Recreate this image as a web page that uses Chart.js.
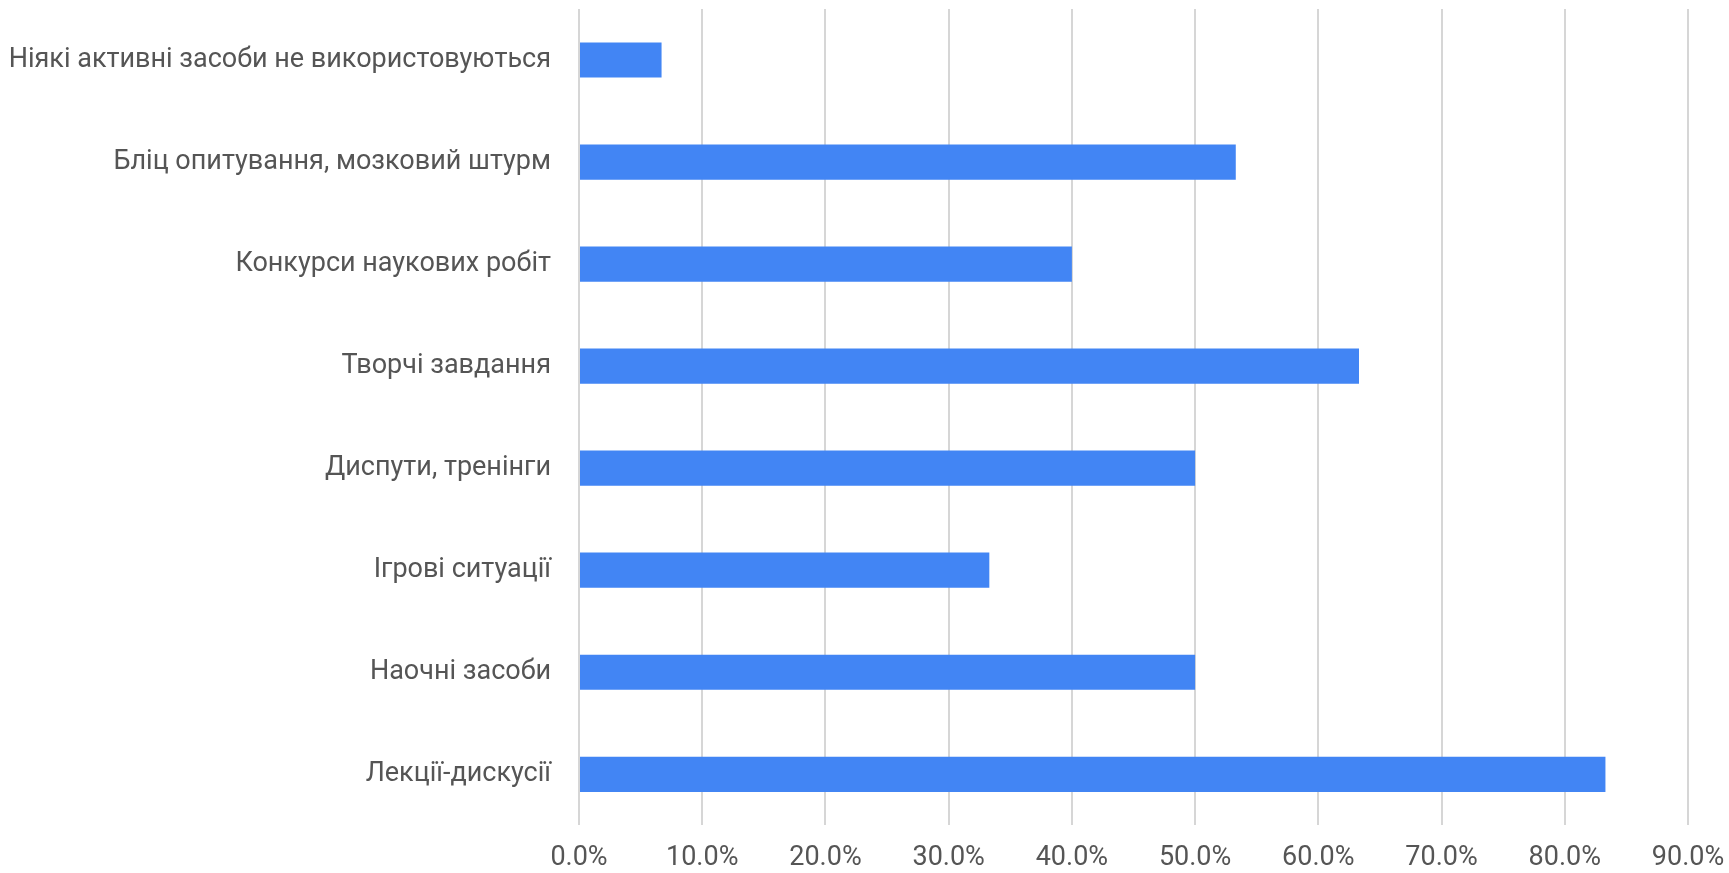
<!DOCTYPE html>
<html>
<head>
<meta charset="utf-8">
<script src="https://cdn.jsdelivr.net/npm/chart.js@4"></script>
<style>
  html, body { margin: 0; padding: 0; background: #fff; }
  #wrap { width: 1729px; height: 873px; position: relative; }
</style>
</head>
<body>
<div id="wrap"><canvas id="chart1"></canvas></div>
<script>
const categories = [
  'Ніякі активні засоби не використовуються',
  'Бліц опитування, мозковий штурм',
  'Конкурси наукових робіт',
  'Творчі завдання',
  'Диспути, тренінги',
  'Ігрові ситуації',
  'Наочні засоби',
  'Лекції-дискусії'
];
const shares = [6.7, 53.3, 40.0, 63.3, 50.0, 33.3, 50.0, 83.3];
const axisMax = 90;
const tickStep = 10;

const ctx = document.getElementById('chart1');
new Chart(ctx, {
  type: 'bar',
  data: {
    labels: categories,
    datasets: [{
      data: shares,
      backgroundColor: '#4285f4',
      borderWidth: 0,
      barPercentage: 0.345,
      categoryPercentage: 1
    }]
  },
  options: {
    indexAxis: 'y',
    responsive: true,
    maintainAspectRatio: false,
    animation: false,
    layout: { padding: { top: 9, right: 41, bottom: 0, left: 0 } },
    plugins: { legend: { display: false }, tooltip: { enabled: false } },
    scales: {
      x: {
        min: 0,
        max: axisMax,
        ticks: {
          stepSize: tickStep,
          color: '#555',
          font: { family: 'Roboto', size: 27, lineHeight: 1.1 },
          padding: 0,
          callback: v => v.toFixed(1) + '%'
        },
        grid: { color: '#d6d6d6', lineWidth: 2, drawTicks: true, tickLength: 18, tickColor: 'transparent' },
        border: { display: false }
      },
      y: {
        ticks: {
          color: '#555',
          font: { family: 'Roboto', size: 27, lineHeight: 0.6 },
          padding: 0
        },
        grid: { display: false, drawTicks: true, tickLength: 28 },
        border: { display: false },
        afterFit: scale => { scale.width = 579; }
      }
    }
  }
});
</script>
</body>
</html>
